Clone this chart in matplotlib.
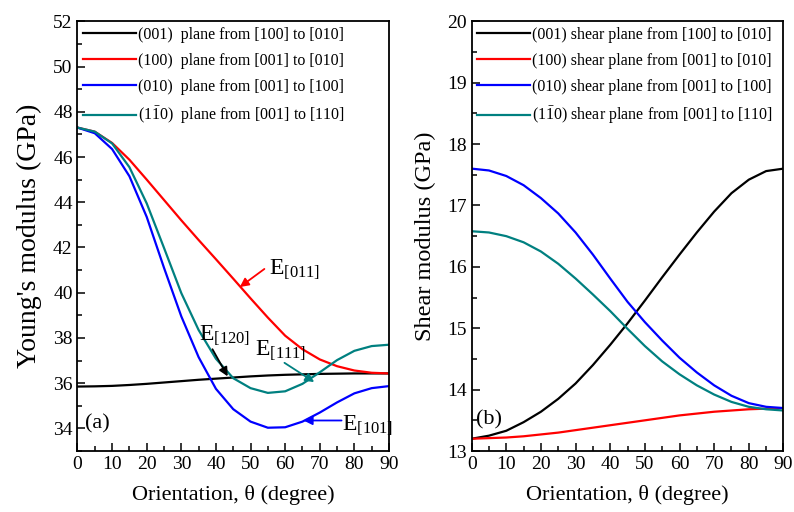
import numpy as np
import matplotlib.pyplot as plt

plt.rcParams['font.family'] = ['Liberation Serif', 'DejaVu Serif']
plt.rcParams['mathtext.fontset'] = 'custom'
plt.rcParams['mathtext.rm'] = 'Liberation Serif'
plt.rcParams['mathtext.it'] = 'Liberation Serif:italic'

theta = [0, 5, 10, 15, 20, 25, 30, 35, 40, 45, 50, 55, 60, 65, 70, 75, 80, 85, 90]

# Young's modulus (GPa)
E_001 = [35.85, 35.86, 35.88, 35.92, 35.97, 36.03, 36.09, 36.15, 36.2, 36.25,
         36.3, 36.34, 36.37, 36.39, 36.41, 36.42, 36.43, 36.43, 36.43]
E_100 = [47.3, 47.12, 46.62, 45.88, 45.0, 44.1, 43.2, 42.33, 41.48, 40.62,
         39.75, 38.9, 38.1, 37.5, 37.05, 36.75, 36.56, 36.46, 36.43]
E_010 = [47.3, 47.05, 46.35, 45.15, 43.35, 41.1, 38.95, 37.15, 35.75, 34.85,
         34.3, 34.03, 34.05, 34.3, 34.7, 35.15, 35.55, 35.78, 35.87]
E_1b10 = [47.3, 47.12, 46.6, 45.55, 43.95, 41.98, 39.98, 38.35, 37.08, 36.22,
          35.78, 35.57, 35.64, 35.97, 36.48, 37.02, 37.43, 37.64, 37.7]

# shear modulus (GPa)
G_001 = [13.2, 13.25, 13.33, 13.47, 13.64, 13.85, 14.1, 14.4, 14.73, 15.08,
         15.45, 15.83, 16.2, 16.56, 16.9, 17.2, 17.42, 17.56, 17.6]
G_100 = [13.2, 13.21, 13.22, 13.24, 13.27, 13.3, 13.34, 13.38, 13.42, 13.46,
         13.5, 13.54, 13.58, 13.61, 13.64, 13.66, 13.68, 13.69, 13.7]
G_010 = [17.6, 17.57, 17.48, 17.33, 17.12, 16.87, 16.56, 16.2, 15.81, 15.43,
         15.1, 14.8, 14.52, 14.28, 14.07, 13.9, 13.78, 13.72, 13.7]
G_1b10 = [16.58, 16.56, 16.5, 16.4, 16.25, 16.05, 15.81, 15.55, 15.28, 14.99,
          14.71, 14.46, 14.25, 14.07, 13.92, 13.8, 13.72, 13.68, 13.66]

colors = ['black', 'red', 'blue', '#008080']
labels_a = ['(001)  plane from [100] to [010]',
            '(100)  plane from [001] to [010]',
            '(010)  plane from [001] to [100]',
            r'(1$\bar{1}$0)  plane from [001] to [110]']
labels_b = ['(001) shear plane from [100] to [010]',
            '(100) shear plane from [001] to [010]',
            '(010) shear plane from [001] to [100]',
            r'(1$\bar{1}$0) shear plane from [001] to [110]']


def style(ax):
    ax.set_xlim(0, 90)
    ax.set_xticks(np.arange(0, 91, 10))
    ax.set_xticks(np.arange(0, 91, 5), minor=True)
    ax.tick_params(which='both', direction='in', top=False, right=False,
                   labelsize=14, width=1.1)
    ax.tick_params(which='major', length=6)
    ax.tick_params(which='minor', length=3.5)
    for s in ax.spines.values():
        s.set_linewidth(1.3)
    ax.set_xlabel('Orientation, θ (degree)', fontsize=16, labelpad=9)


def legend(ax, labels):
    ax.legend(labels, loc='upper left', frameon=False, fontsize=11.5,
              handlelength=3.3, handletextpad=0.15, labelspacing=0.62,
              borderaxespad=0.05, borderpad=0.3)


fig = plt.figure(figsize=(7.94, 5.12), dpi=100)
ax1 = fig.add_axes([0.0976, 0.1191, 0.3923, 0.8393])
ax2 = fig.add_axes([0.594, 0.1191, 0.3927, 0.8393])

for y, c in zip([E_001, E_100, E_010, E_1b10], colors):
    ax1.plot(theta, y, color=c, lw=1.6)
style(ax1)
ax1.set_ylim(33, 52)
ax1.set_yticks(np.arange(34, 53, 2))
ax1.set_yticks(np.arange(33, 52, 1), minor=True)
ax1.set_ylabel("Young's modulus (GPa)", fontsize=20, labelpad=8)
legend(ax1, labels_a)
ax1.text(2.2, 34.2, '(a)', fontsize=16, va='center')

ann = [(r'E$_{[011]}$', (55.2, 40.85), (54.0, 41.05), (46.9, 40.25), 'red'),
       (r'E$_{[120]}$', (35.0, 37.9), (39.0, 37.5), (43.4, 36.3), 'black'),
       (r'E$_{[111]}$', (51.2, 37.25), (59.8, 36.9), (68.4, 36.05), '#008080'),
       (r'E$_{[101]}$', (76.3, 33.95), (76.3, 34.35), (65.3, 34.35), 'blue')]
for txt, tpos, tail, head, c in ann:
    ax1.text(tpos[0], tpos[1], txt, fontsize=17, va='baseline')
    ax1.annotate('', xy=head, xytext=tail,
                 arrowprops=dict(arrowstyle='-|>', color=c, lw=1.3,
                                 mutation_scale=13, shrinkA=0, shrinkB=0))

for y, c in zip([G_001, G_100, G_010, G_1b10], colors):
    ax2.plot(theta, y, color=c, lw=1.6)
style(ax2)
ax2.set_ylim(13, 20)
ax2.set_yticks(np.arange(13, 21, 1))
ax2.set_yticks(np.arange(13, 20.01, 0.5), minor=True)
ax2.set_ylabel('Shear modulus (GPa)', fontsize=17.5, labelpad=8)
legend(ax2, labels_b)
ax2.text(1.3, 13.5, '(b)', fontsize=16, va='center')

fig.savefig('out.png', dpi=100)
